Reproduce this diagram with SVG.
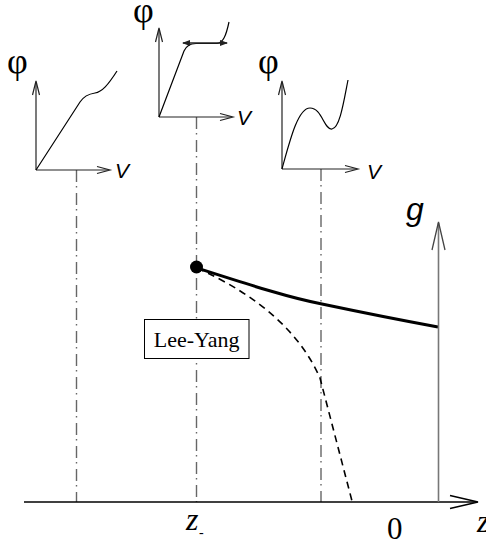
<svg xmlns="http://www.w3.org/2000/svg" width="486" height="543" viewBox="0 0 486 543">
<style>
.ax{stroke:#222;stroke-width:1.2;fill:none}
.ah{stroke:#222;stroke-width:1.2;fill:none;stroke-linejoin:miter}
.dd{stroke:#666;stroke-width:1.4;fill:none;stroke-dasharray:12 4 1.5 5.5}
.crv{stroke:#000;stroke-width:1.2;fill:none}
.lbl{font-family:"Liberation Sans",Arial,sans-serif;font-style:italic;fill:#000}
.phi{font-family:"Liberation Serif","Times New Roman",serif;fill:#000;font-size:36px}
.ser{font-family:"Liberation Serif","Times New Roman",serif;fill:#000}
</style>
<rect width="486" height="543" fill="#fff"/>
<g id="connectors">
<line class="dd" x1="76.5" y1="170" x2="76.5" y2="502"/>
<line class="dd" x1="196.5" y1="117" x2="196.5" y2="502"/>
<line class="dd" x1="321" y1="169" x2="321" y2="502"/>
<path d="M197,268 C250,285 290,298 322,304 C360,312 400,320 438,327" stroke="#000" stroke-width="3" fill="none"/>
<path d="M197,268 Q290,310 320,378 L352,501" stroke="#000" stroke-width="1.6" fill="none" stroke-dasharray="7 5"/>
</g>
<g id="z-axis">
<line x1="24" y1="502" x2="477" y2="502" stroke="#000" stroke-width="1.5"/>
<path d="M450,495.5 L478,502 L450,508.5" stroke="#000" stroke-width="1.4" fill="none"/>
<text class="ser" x="477" y="532" font-size="32" font-style="italic">z</text>
<text class="ser" x="186" y="530" font-size="32" font-style="italic">z</text>
<text class="ser" x="199" y="537" font-size="14">-</text>
<text class="ser" x="387" y="539" font-size="31">0</text>
</g>
<g id="g-axis">
<line x1="438.5" y1="502" x2="438.5" y2="223" stroke="#777" stroke-width="1.6"/>
<path d="M432,250 L438.5,222 L445,250" stroke="#444" stroke-width="1.3" fill="none"/>
<text class="lbl" x="406" y="220" font-size="32">g</text>
</g>
<g id="lee-yang-point">
<circle cx="196.5" cy="267" r="6.5" fill="#000"/>
</g>
<g id="lee-yang">
<rect x="144.5" y="319.5" width="104.5" height="39" fill="#fff" stroke="#000" stroke-width="1"/>
<text class="ser" x="196.7" y="347" font-size="22" text-anchor="middle">Lee-Yang</text>
</g>
<g id="inset-left">
<line class="ax" x1="36" y1="170" x2="36" y2="82"/>
<path class="ah" d="M32.5,95 L36,81 L39.5,95"/>
<line class="ax" x1="36" y1="170" x2="109" y2="170"/>
<path class="ah" d="M97,166.5 L110,170 L97,173.5"/>
<path class="crv" d="M36,170 L80,102 C84,96 88,94 95,93 C102,92 108,85 117,71"/>
<text class="phi" x="7" y="73">φ</text>
<text class="lbl" x="115" y="178" font-size="21">V</text>
</g>
<g id="inset-middle">
<line class="ax" x1="159" y1="117" x2="159" y2="30"/>
<path class="ah" d="M155.5,42 L159,28 L162.5,42"/>
<line class="ax" x1="159" y1="117" x2="232" y2="117"/>
<path class="ah" d="M220,113.5 L233,117 L220,120.5"/>
<path class="crv" d="M159,117 L184,51 C187,45 190,44 196,43.5 L217,43.5 C223,43 226,36 229,22"/>
<line x1="183" y1="43" x2="227" y2="43" stroke="#222" stroke-width="1.4"/>
<path d="M190,40 L182,43 L190,46 Z M220,40 L228,43 L220,46 Z" fill="#222"/>
<text class="phi" x="133" y="22">φ</text>
<text class="lbl" x="237" y="125" font-size="21">V</text>
</g>
<g id="inset-right">
<line class="ax" x1="282" y1="169" x2="282" y2="82"/>
<path class="ah" d="M278.5,95 L282,81 L285.5,95"/>
<line class="ax" x1="282" y1="169" x2="357" y2="169"/>
<path class="ah" d="M345,165.5 L358,169 L345,172.5"/>
<path class="crv" d="M282,169 C290,140 298,108 310,108 C322,108 324,130 332,129 C340,128 344,100 348,80"/>
<text class="phi" x="258" y="73">φ</text>
<text class="lbl" x="367" y="179" font-size="21">V</text>
</g>
</svg>
